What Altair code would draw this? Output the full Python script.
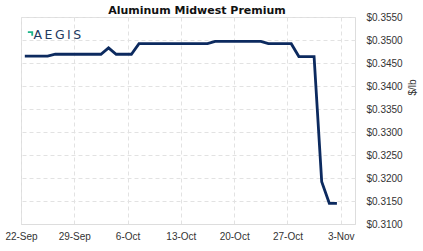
import altair as alt
import pandas as pd

# Daily Aluminum Midwest Premium ($/lb), 22-Sep to 2-Nov
dates = pd.date_range("2025-09-22T12:00", periods=42, freq="D").strftime("%Y-%m-%dT%H:%M").tolist()
values = (
    [0.3465] * 4 +          # 22-25 Sep
    [0.3469] * 7 +          # 26 Sep - 2 Oct
    [0.3483] +              # 3 Oct
    [0.3469] * 3 +          # 4-6 Oct
    [0.3492] * 10 +         # 7-16 Oct
    [0.3497] * 7 +          # 17-23 Oct
    [0.3492] * 4 +          # 24-27 Oct
    [0.3464] * 3 +          # 28-30 Oct
    [0.3192] +              # 31 Oct
    [0.3145] * 2            # 1-2 Nov
)
x_ticks = ["2025-09-22", "2025-09-29", "2025-10-06", "2025-10-13", "2025-10-20", "2025-10-27", "2025-11-03"]
y_ticks = [0.310, 0.315, 0.320, 0.325, 0.330, 0.335, 0.340, 0.345, 0.350, 0.355]

df = pd.DataFrame({"date": dates, "value": values})

FONT = "Liberation Sans"
GRID = "#e2e2e2"

line = alt.Chart(df).mark_line(color="#0c2a5f", strokeWidth=2.8, strokeJoin="miter").encode(
    x=alt.X(
        "date:T",
        scale=alt.Scale(domain=["2025-09-22T00:00", "2025-11-04T21:00"]),
        axis=alt.Axis(
            title=None,
            values=[pd.Timestamp(t).isoformat() for t in x_ticks],
            format="%-d-%b",
            labelFont=FONT, labelFontSize=10, labelColor="#333333",
            tickSize=0, labelPadding=7,
            domainColor="#dddddd",
            gridColor=GRID, gridDash=[4, 3],
            labelFlush=False,
        ),
    ),
    y=alt.Y(
        "value:Q",
        scale=alt.Scale(domain=[0.31, 0.355], nice=False, zero=False),
        axis=alt.Axis(
            orient="right",
            title="$/lb",
            values=y_ticks,
            format="$.4f",
            labelFont=FONT, labelFontSize=10, labelColor="#333333",
            titleFont=FONT, titleFontSize=10, titleFontWeight="normal", titleColor="#333333",
            titleAngle=270, titlePadding=10, titleY=70, titleBaseline="middle",
            tickSize=0, labelPadding=11, domain=False,
            gridColor=GRID, gridDash=[4, 3],
        ),
    ),
)

logo_text = alt.Chart(df.head(1)).mark_text(
    text="A\u2009E\u2009G\u2009I\u2009S", font="DejaVu Sans", fontSize=12.5, fontWeight="normal",
    color="#1e3a5f", align="left", baseline="middle",
).encode(x=alt.value(12.5), y=alt.value(18))

logo_mark = alt.Chart(df.head(1)).mark_point(
    shape="M-1,-0.7 L1,-0.7 L1,1 L0.3,1 L0.3,0 L-1,0 Z", size=28, filled=True,
    color="#1db489", opacity=1, strokeWidth=0,
).encode(x=alt.value(9.5), y=alt.value(16))

chart = alt.layer(line, logo_text, logo_mark).properties(
    width=334,
    height=207,
    title=alt.TitleParams(
        "Aluminum Midwest Premium", font="DejaVu Sans", fontSize=11, fontWeight="bold",
        color="#111111", offset=-4, dx=9,
    ),
    padding={"left": 21, "top": 17, "right": 68, "bottom": 27},
    autosize=alt.AutoSizeParams(type="none"),
).configure_view(stroke=None).configure(background="white")

chart.save("out.html", embed_options={"renderer": "svg", "actions": False})
